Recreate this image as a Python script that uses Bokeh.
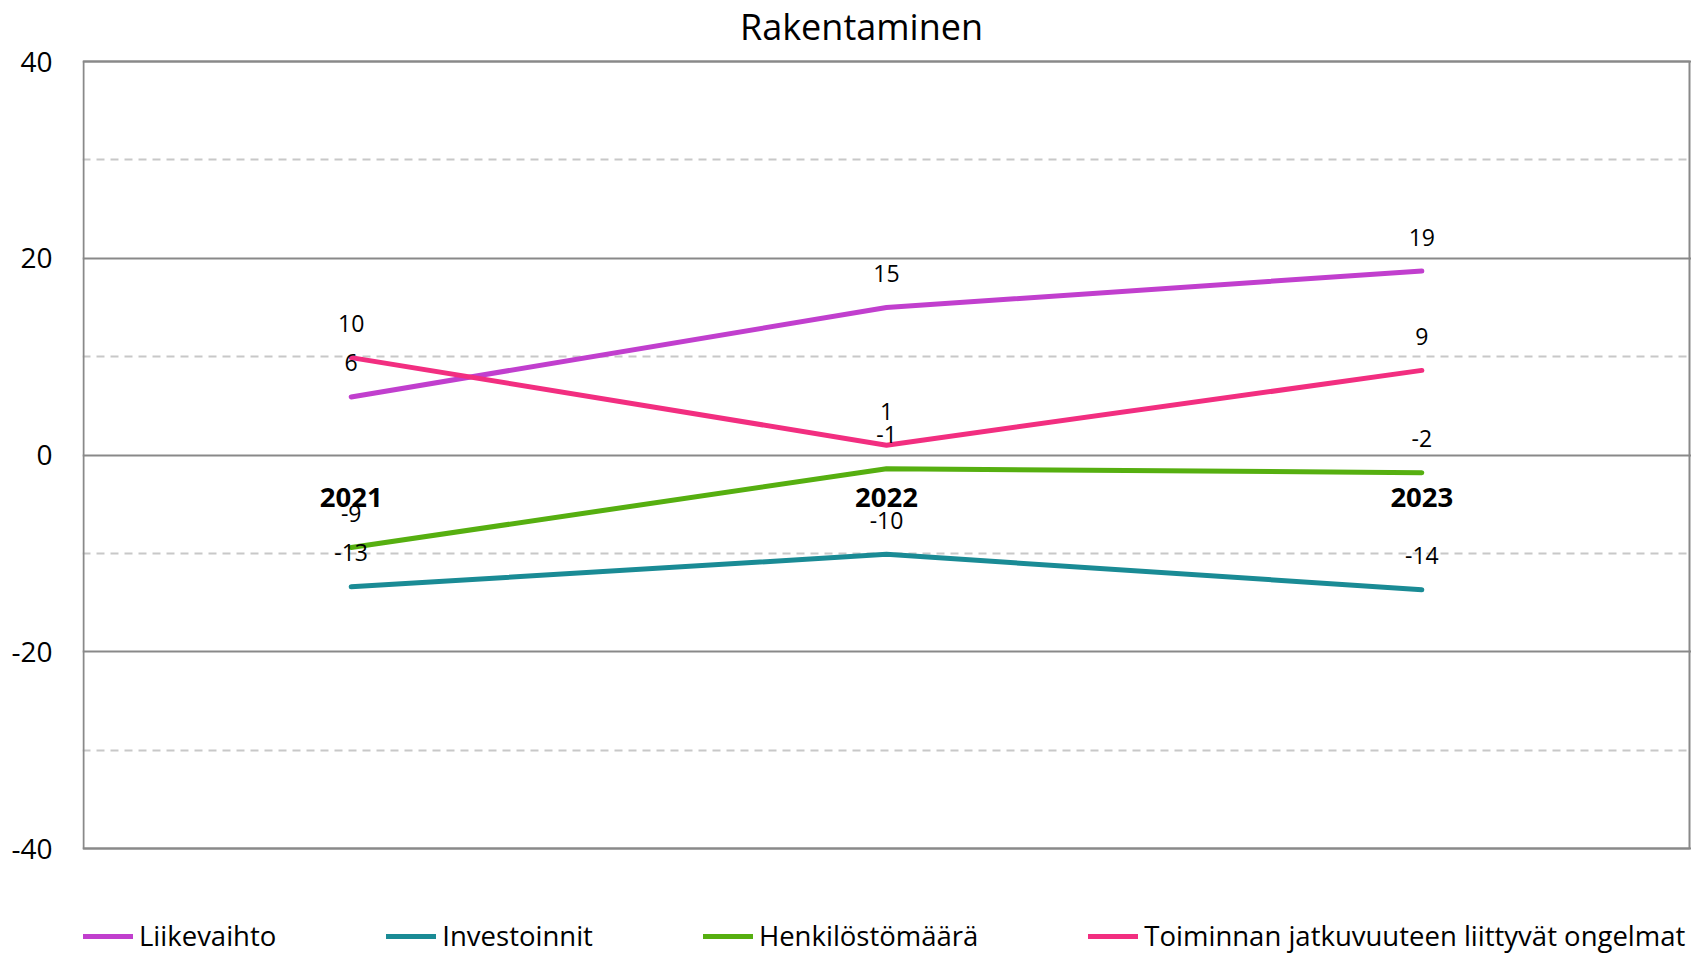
from bokeh.plotting import figure
from bokeh.models import Range1d, FixedTicker, Legend, LegendItem, Label
from bokeh.core.properties import value
from bokeh.embed import file_html
from bokeh.resources import INLINE

title_text = "Rakentaminen"
years = ["2021", "2022", "2023"]
series_names = ["Liikevaihto", "Investoinnit", "Henkilöstömäärä",
                "Toiminnan jatkuvuuteen liittyvät ongelmat"]
liikevaihto = [5.9, 15.0, 18.7]
investoinnit = [-13.4, -10.1, -13.7]
henkilostomaara = [-9.4, -1.4, -1.8]
toiminnan = [9.9, 1.0, 8.6]
series_values = [liikevaihto, investoinnit, henkilostomaara, toiminnan]
colors = ["#C13FCE", "#1A8B95", "#56AF10", "#F22E80"]
y_ticks = [-40, -20, 0, 20, 40]
y_minor = [-30, -10, 10, 30]
y_min, y_max = -40, 40

FONT = "Open Sans"

# canvas geometry (pixels)
W, H = 1691, 954
BOX_L, BOX_R, BOX_T, BOX_B = 83, 1689, 61, 848
FRAME_L = 82

# category slots: each year occupies one unit, centred at i + 0.5
xs = [i + 0.5 for i in range(len(years))]
n = len(years)
px_x = (BOX_R - BOX_L) / n
px_y = (BOX_B - BOX_T) / (y_max - y_min)
x_range = Range1d(-(BOX_L - FRAME_L) / px_x, n + (W - BOX_R) / px_x)
y_range = Range1d(y_min - (H - BOX_B) / px_y, y_max + BOX_T / px_y)

p = figure(width=W, height=H, x_range=x_range, y_range=y_range,
           output_backend="svg", toolbar_location=None, x_axis_location=None,
           title=None, min_border_left=FRAME_L, min_border_right=0,
           min_border_top=0, min_border_bottom=0)
p.background_fill_color = "white"
p.border_fill_color = "white"
p.outline_line_color = None

ticker = FixedTicker(ticks=y_ticks, minor_ticks=y_minor)
p.yaxis.ticker = ticker
p.yaxis.major_label_overrides = {t: str(t) for t in y_ticks}
p.yaxis.axis_line_color = None
p.yaxis.major_tick_line_color = None
p.yaxis.minor_tick_line_color = None
p.yaxis.major_label_text_font = FONT
p.yaxis.major_label_text_font_size = "28px"
p.yaxis.major_label_text_color = "black"
p.yaxis.major_label_standoff = 24

p.xgrid.visible = False
p.ygrid.grid_line_color = "#898989"
p.ygrid.grid_line_width = 2
p.ygrid.minor_grid_line_color = "#C8C8C8"
p.ygrid.minor_grid_line_width = 2
p.ygrid.minor_grid_line_dash = "8 6"

# plot-area box
p.quad(left=0, right=n, top=y_max, bottom=y_min, fill_color=None,
       line_color="#898989", line_width=2)

renderers = []
for vals, col in zip(series_values, colors):
    r = p.line(xs, vals, line_color=col, line_width=5,
               line_cap="round", line_join="round")
    renderers.append(r)

for vals in series_values:
    p.text(x=xs, y=vals, text=[f"{v:.0f}" for v in vals],
           text_align="center", text_baseline="middle", y_offset=-34,
           text_font=value(FONT), text_font_size="23px", text_color="black")

p.text(x=xs, y=[0] * n, text=years, text_align="center",
       text_baseline="middle", y_offset=42, text_font=value(FONT),
       text_font_size="27.5px", text_font_style="bold", text_color="black")

title = Label(x=n / 2, y=y_max, text=title_text, text_align="center",
              text_baseline="top", x_offset=-25, y_offset=BOX_T - 1,
              text_font=FONT, text_font_size="36px", text_color="black")
p.add_layout(title)

legend = Legend(items=[LegendItem(label=s, renderers=[r])
                       for s, r in zip(series_names, renderers)],
                orientation="horizontal", location=(1, 0), spacing=110,
                glyph_width=50, glyph_height=20, label_standoff=6,
                padding=0, margin=0, border_line_color=None,
                background_fill_alpha=0, label_text_font=FONT,
                label_text_font_size="27.5px", label_text_color="black")
p.add_layout(legend)

open("out.html", "w").write(file_html(p, INLINE))
